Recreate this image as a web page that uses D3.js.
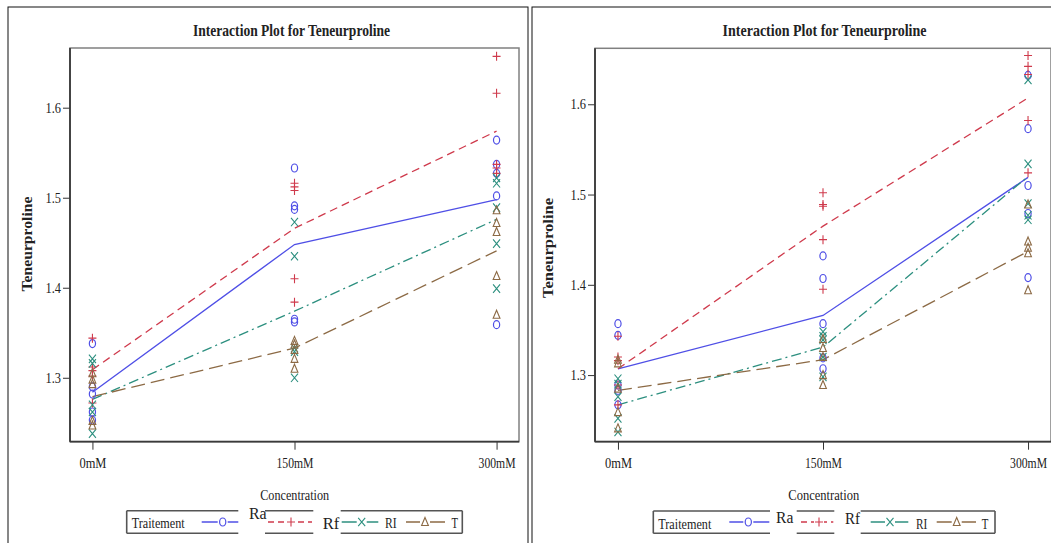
<!DOCTYPE html>
<html>
<head>
<meta charset="utf-8">
<script src="https://cdn.jsdelivr.net/npm/d3@7"></script>
<style>
  html, body { margin: 0; padding: 0; background: #fff; }
  svg { display: block; }
  text { font-family: "Liberation Serif", "Times New Roman", serif; fill: #222; }
</style>
</head>
<body>
<svg id="chart" width="1051" height="543"></svg>
<script>
// ---------- data ----------
const categories = ["0mM", "150mM", "300mM"];
const treatments = ["Ra", "Rf", "RI", "T"];
const yTicks = [1.3, 1.4, 1.5, 1.6];
const titleText = "Interaction Plot for Teneurproline";
const yLabelText = "Teneurproline";
const xLabelText = "Concentration";
const legendTitle = "Traitement";

// left panel: observations per concentration (0mM, 150mM, 300mM)
const leftRaObs = [[1.338, 1.290, 1.282, 1.262, 1.253], [1.533, 1.491, 1.487, 1.365, 1.362], [1.564, 1.537, 1.527, 1.502, 1.359]];
const leftRfObs = [[1.344, 1.312, 1.308, 1.302, 1.272], [1.516, 1.512, 1.508, 1.410, 1.384], [1.657, 1.616, 1.537, 1.533, 1.527]];
const leftRIObs = [[1.321, 1.316, 1.270, 1.262, 1.238], [1.473, 1.435, 1.333, 1.329, 1.300], [1.522, 1.516, 1.489, 1.449, 1.399]];
const leftTObs  = [[1.305, 1.298, 1.293, 1.252, 1.247], [1.341, 1.337, 1.331, 1.321, 1.310], [1.486, 1.472, 1.462, 1.413, 1.370]];
// left panel: means
const leftRaMean = [1.284, 1.448, 1.498];
const leftRfMean = [1.309, 1.466, 1.574];
const leftRIMean = [1.276, 1.374, 1.476];
const leftTMean  = [1.279, 1.333, 1.441];

// right panel: observations
const rightRaObs = [[1.357, 1.344, 1.289, 1.283, 1.267], [1.432, 1.407, 1.357, 1.319, 1.307], [1.632, 1.573, 1.510, 1.479, 1.408]];
const rightRfObs = [[1.343, 1.320, 1.316, 1.289, 1.267], [1.502, 1.489, 1.487, 1.450, 1.395], [1.654, 1.642, 1.633, 1.582, 1.524]];
const rightRIObs = [[1.296, 1.290, 1.276, 1.252, 1.237], [1.348, 1.343, 1.339, 1.320, 1.298], [1.627, 1.534, 1.490, 1.477, 1.472]];
const rightTObs  = [[1.317, 1.313, 1.285, 1.259, 1.241], [1.340, 1.330, 1.320, 1.300, 1.289], [1.489, 1.448, 1.441, 1.435, 1.394]];
// right panel: means
const rightRaMean = [1.307, 1.366, 1.519];
const rightRfMean = [1.307, 1.465, 1.607];
const rightRIMean = [1.267, 1.331, 1.520];
const rightTMean  = [1.283, 1.317, 1.437];

// ---------- styles ----------
const colors = { Ra: "#4f4fe6", Rf: "#cf3a4c", RI: "#2c8f7f", T: "#8c6a45" };
const dashes = { Ra: null, Rf: "8,5", RI: "10,4,2,4", T: "14,6" };
const markers = { Ra: "circle", Rf: "plus", RI: "x", T: "triangle" };

const svg = d3.select("#chart");

function drawMarker(g, type, x, y, color) {
  if (type === "circle") {
    g.append("ellipse").attr("cx", x).attr("cy", y).attr("rx", 3.1).attr("ry", 4)
      .attr("fill", "none").attr("stroke", color).attr("stroke-width", 1.2);
  } else {
    let d;
    if (type === "plus") d = `M${x-4},${y}H${x+4}M${x},${y-4.5}V${y+4.5}`;
    else if (type === "x") d = `M${x-3.5},${y-4.2}L${x+3.5},${y+4.2}M${x-3.5},${y+4.2}L${x+3.5},${y-4.2}`;
    else d = `M${x},${y-4.5}L${x+3.4},${y+3.5}L${x-3.4},${y+3.5}Z`;
    g.append("path").attr("d", d).attr("fill", "none").attr("stroke", color).attr("stroke-width", 1.1);
  }
}

function drawPanel(cfg) {
  const g = svg.append("g");
  g.append("rect").attr("x", cfg.frame[0]).attr("y", cfg.frame[1])
    .attr("width", cfg.frame[2]).attr("height", cfg.frame[3])
    .attr("fill", "none").attr("stroke", "#111").attr("stroke-width", 1);

  const x = d3.scalePoint().domain(categories).range(cfg.xRange).padding(cfg.pad);
  const y = d3.scaleLinear().domain(cfg.yDomain).range(cfg.yRange);

  const [x0, x1] = cfg.xRange;
  const [yb, yt] = cfg.yRange;

  g.append("rect").attr("x", x0).attr("y", yt).attr("width", x1 - x0).attr("height", yb - yt)
    .attr("fill", "none").attr("stroke", "#808080").attr("stroke-width", 1.5);

  const ya = g.append("g").attr("transform", `translate(${x0},0)`)
    .call(d3.axisLeft(y).tickValues(yTicks).tickSize(7).tickPadding(2).tickFormat(d3.format(".1f")));
  ya.select(".domain").remove();
  ya.selectAll("line").attr("stroke", "#333");
  ya.selectAll("text").attr("font-size", 14).attr("fill", "#222")
    .attr("font-family", "Liberation Serif")
    .attr("textLength", 15.5).attr("lengthAdjust", "spacingAndGlyphs");

  const xa = g.append("g").attr("transform", `translate(0,${yb})`)
    .call(d3.axisBottom(x).tickSize(8).tickPadding(8));
  xa.select(".domain").remove();
  xa.selectAll("line").attr("stroke", "#333");
  xa.selectAll("text").attr("font-size", 14).attr("fill", "#222")
    .attr("font-family", "Liberation Serif")
    .attr("textLength", d => d === "0mM" ? 27 : 37).attr("lengthAdjust", "spacingAndGlyphs");

  g.append("line").attr("x1", x0).attr("x2", x0).attr("y1", yt).attr("y2", yb)
    .attr("stroke", "#3a3a3a").attr("stroke-width", 1.8);
  g.append("line").attr("x1", x0).attr("x2", x1).attr("y1", yb).attr("y2", yb)
    .attr("stroke", "#3a3a3a").attr("stroke-width", 1.8);

  const line = d3.line().x((d, i) => x(categories[i])).y(d => y(d));
  treatments.forEach(t => {
    g.append("path").datum(cfg.means[t]).attr("d", line)
      .attr("fill", "none").attr("stroke", colors[t]).attr("stroke-width", 1.3)
      .attr("stroke-dasharray", dashes[t]);
  });

  treatments.forEach(t => {
    cfg.obs[t].forEach((vals, i) => {
      vals.forEach(v => drawMarker(g, markers[t], x(categories[i]), y(v), colors[t]));
    });
  });

  g.append("text").attr("x", cfg.titleX).attr("y", 36).attr("text-anchor", "middle")
    .attr("font-size", 17).attr("font-weight", "bold").attr("fill", "#111")
    .attr("textLength", cfg.titleW).attr("lengthAdjust", "spacingAndGlyphs").text(titleText);

  g.append("text").attr("transform", `translate(${cfg.yLabX},${cfg.yLabY}) rotate(-90)`)
    .attr("text-anchor", "middle").attr("font-size", 14).attr("font-weight", "bold").attr("fill", "#222")
    .attr("textLength", cfg.yLabW).attr("lengthAdjust", "spacingAndGlyphs").text(yLabelText);

  g.append("text").attr("x", cfg.xLabX).attr("y", 500).attr("text-anchor", "middle")
    .attr("font-size", 15).attr("fill", "#222")
    .attr("textLength", cfg.xLabW).attr("lengthAdjust", "spacingAndGlyphs").text(xLabelText);

  const L = cfg.legend;
  const lg = g.append("g");
  const fr = (x1_, x2_) => {
    lg.append("line").attr("x1", x1_).attr("x2", x2_).attr("y1", L.top).attr("y2", L.top)
      .attr("stroke", "#555").attr("stroke-width", 1.6);
    lg.append("line").attr("x1", x1_).attr("x2", x2_).attr("y1", L.bot).attr("y2", L.bot)
      .attr("stroke", "#555").attr("stroke-width", 1.6);
  };
  fr(L.segA[0], L.segA[1]);
  fr(L.segB[0], L.segB[1]);
  fr(L.segC[0], L.segC[1]);
  lg.append("line").attr("x1", L.segA[0]).attr("x2", L.segA[0]).attr("y1", L.top).attr("y2", L.bot)
    .attr("stroke", "#555").attr("stroke-width", 1.6);
  lg.append("line").attr("x1", L.segC[1]).attr("x2", L.segC[1]).attr("y1", L.top).attr("y2", L.bot)
    .attr("stroke", "#555").attr("stroke-width", 1.6);

  lg.append("text").attr("x", L.titleX).attr("y", L.base).attr("font-size", 15)
    .attr("textLength", 53).attr("lengthAdjust", "spacingAndGlyphs").text(legendTitle);

  treatments.forEach(t => {
    const it = L.items[t];
    const my = L.sy;
    lg.append("line").attr("x1", it.l[0]).attr("x2", it.l[1]).attr("y1", my).attr("y2", my)
      .attr("stroke", colors[t]).attr("stroke-width", 1.4)
      .attr("stroke-dasharray", t === "Rf" ? "6,4" : null);
    lg.append("rect").attr("x", it.m - 5).attr("y", my - 6).attr("width", 10).attr("height", 12).attr("fill", "#fff");
    drawMarker(lg, markers[t], it.m, my, colors[t]);
    lg.append("text").attr("x", it.tx).attr("y", it.ty).attr("font-size", it.fs)
      .attr("textLength", it.tw).attr("lengthAdjust", "spacingAndGlyphs").text(t);
  });
}

drawPanel({
  frame: [8, 7, 520, 560],
  xRange: [70, 519], pad: 0.111,
  yDomain: [1.229, 1.6663], yRange: [441.7, 48],
  titleX: 291.5, titleW: 197,
  yLabX: 31.5, yLabY: 244, yLabW: 95,
  xLabX: 294.7, xLabW: 69,
  means: { Ra: leftRaMean, Rf: leftRfMean, RI: leftRIMean, T: leftTMean },
  obs: { Ra: leftRaObs, Rf: leftRfObs, RI: leftRIObs, T: leftTObs },
  legend: {
    top: 510.7, bot: 533.3, sy: 522,
    segA: [126.7, 238.3], segB: [265, 313.3], segC: [340.7, 462.3],
    titleX: 131.7, base: 528,
    items: {
      Ra: { l: [201.7, 238.3], m: 222.7, tx: 249, ty: 518.5, fs: 16, tw: 17.7 },
      Rf: { l: [268, 312], m: 291, tx: 322.7, ty: 529.3, fs: 16, tw: 16.6 },
      RI: { l: [341.7, 378.3], m: 361.7, tx: 385, ty: 528, fs: 15, tw: 11.7 },
      T:  { l: [406, 445], m: 425, tx: 451.5, ty: 528, fs: 15, tw: 6.5 }
    }
  }
});

drawPanel({
  frame: [532, 7, 560, 560],
  xRange: [595, 1051], pad: 0.112,
  yDomain: [1.2262, 1.662], yRange: [441.7, 48.3],
  titleX: 824.5, titleW: 204,
  yLabX: 553, yLabY: 248, yLabW: 100,
  xLabX: 823.8, xLabW: 71,
  means: { Ra: rightRaMean, Rf: rightRfMean, RI: rightRIMean, T: rightTMean },
  obs: { Ra: rightRaObs, Rf: rightRfObs, RI: rightRIObs, T: rightTObs },
  legend: {
    top: 511, bot: 533.3, sy: 522,
    segA: [653.3, 770], segB: [796.7, 834.3], segC: [860.7, 995],
    titleX: 658.3, base: 528.5,
    items: {
      Ra: { l: [729.3, 769.3], m: 748.3, tx: 776, ty: 523, fs: 16, tw: 17.3 },
      Rf: { l: [801, 833.3], m: 819, tx: 845, ty: 524, fs: 16, tw: 15 },
      RI: { l: [870.7, 908.3], m: 890, tx: 916, ty: 528.5, fs: 15, tw: 11.3 },
      T:  { l: [936.7, 976], m: 956.7, tx: 981.7, ty: 528.5, fs: 15, tw: 6.6 }
    }
  }
});
</script>
</body>
</html>
